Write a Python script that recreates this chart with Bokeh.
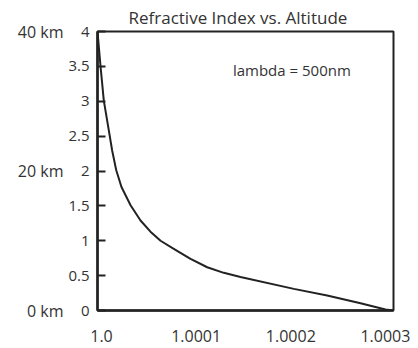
from bokeh.plotting import figure
from bokeh.models import LinearAxis, Range1d, FixedTicker, Label
from bokeh.embed import file_html
from bokeh.resources import INLINE

# Data
refr_index = [1.0, 1.000003, 1.0000064, 1.0000115, 1.0000149, 1.000019,
              1.0000243, 1.0000335, 1.0000436, 1.0000537, 1.0000639, 1.0000773,
              1.0000943, 1.0001112, 1.000128, 1.0001449, 1.000199, 1.0002328,
              1.0002666, 1.0002919, 1.0003]
altitude = [4.0, 3.51, 3.01, 2.58, 2.29, 2.01, 1.77, 1.51, 1.29, 1.13, 1.0, 0.885,
            0.74, 0.62, 0.54, 0.48, 0.31, 0.215, 0.105, 0.014, 0.0]

y_ticks = [0, 0.5, 1, 1.5, 2, 2.5, 3, 3.5, 4]
y_labels = ["0", "0.5", "1", "1.5", "2", "2.5", "3", "3.5", "4"]
km_ticks = [0, 2, 4]
km_labels = ["0 km", "20 km", "40 km"]
x_label_slots = [0, 1, 2, 3]
x_labels = ["1.0", "1.0001", "1.0002", "1.0003"]

FONT = "Open Sans"
INK = "#222222"
TXT = "#333333"

p = figure(width=418, height=348, output_backend="svg", toolbar_location=None,
           x_range=Range1d(1.0, 1.0003), y_range=Range1d(0, 4),
           x_axis_location=None, y_axis_location=None,
           min_border_left=97, min_border_right=25, min_border_top=10,
           min_border_bottom=38)
p.title.text = "Refractive Index vs. Altitude"
p.title.text_font = FONT
p.title.text_font_size = "17px"
p.title.text_font_style = "normal"
p.title.text_color = TXT
p.title.align = "left"
p.title.offset = 31
p.title.standoff = 6

p.xgrid.visible = False
p.ygrid.visible = False
p.outline_line_color = INK
p.outline_line_width = 2
p.background_fill_color = "white"
p.border_fill_color = "white"

p.line(refr_index, altitude, line_color=INK, line_width=2, line_join="round")

# main y axis
yax = LinearAxis(ticker=FixedTicker(ticks=y_ticks),
                 major_label_overrides={t: l for t, l in zip(y_ticks, y_labels)})
yax.major_tick_in = 8
yax.major_tick_out = 0
yax.minor_tick_line_color = None
yax.major_tick_line_color = INK
yax.major_tick_line_width = 2
yax.axis_line_color = INK
yax.axis_line_width = 2.5
yax.major_label_standoff = 8
yax.major_label_text_font = FONT
yax.major_label_text_font_size = "15px"
yax.major_label_text_color = TXT
p.add_layout(yax, "left")

# km axis
kax = LinearAxis(ticker=FixedTicker(ticks=km_ticks),
                 major_label_overrides={t: l for t, l in zip(km_ticks, km_labels)})
kax.major_tick_line_color = None
kax.minor_tick_line_color = None
kax.axis_line_color = None
kax.major_tick_in = 0
kax.major_tick_out = 0
kax.major_label_standoff = 2
kax.major_label_text_font = FONT
kax.major_label_text_font_size = "16px"
kax.major_label_text_color = TXT
p.add_layout(kax, "left")

# x axis labels (evenly spaced label slots)
p.extra_x_ranges = {"xlab": Range1d(-0.0423, 3.085)}
xax = LinearAxis(x_range_name="xlab", ticker=FixedTicker(ticks=x_label_slots),
                 major_label_overrides={t: l for t, l in zip(x_label_slots, x_labels)})
xax.major_tick_line_color = None
xax.minor_tick_line_color = None
xax.major_tick_in = 0
xax.major_tick_out = 0
xax.axis_line_color = INK
xax.axis_line_width = 2.5
xax.major_label_standoff = 19
xax.major_label_text_font = FONT
xax.major_label_text_font_size = "16px"
xax.major_label_text_color = TXT
p.add_layout(xax, "below")

p.add_layout(Label(x=1.000197, y=3.45, text="lambda = 500nm", text_align="center",
                   text_baseline="middle", text_font=FONT, text_font_size="15px",
                   text_color=TXT))

open("out.html", "w").write(file_html(p, INLINE))
